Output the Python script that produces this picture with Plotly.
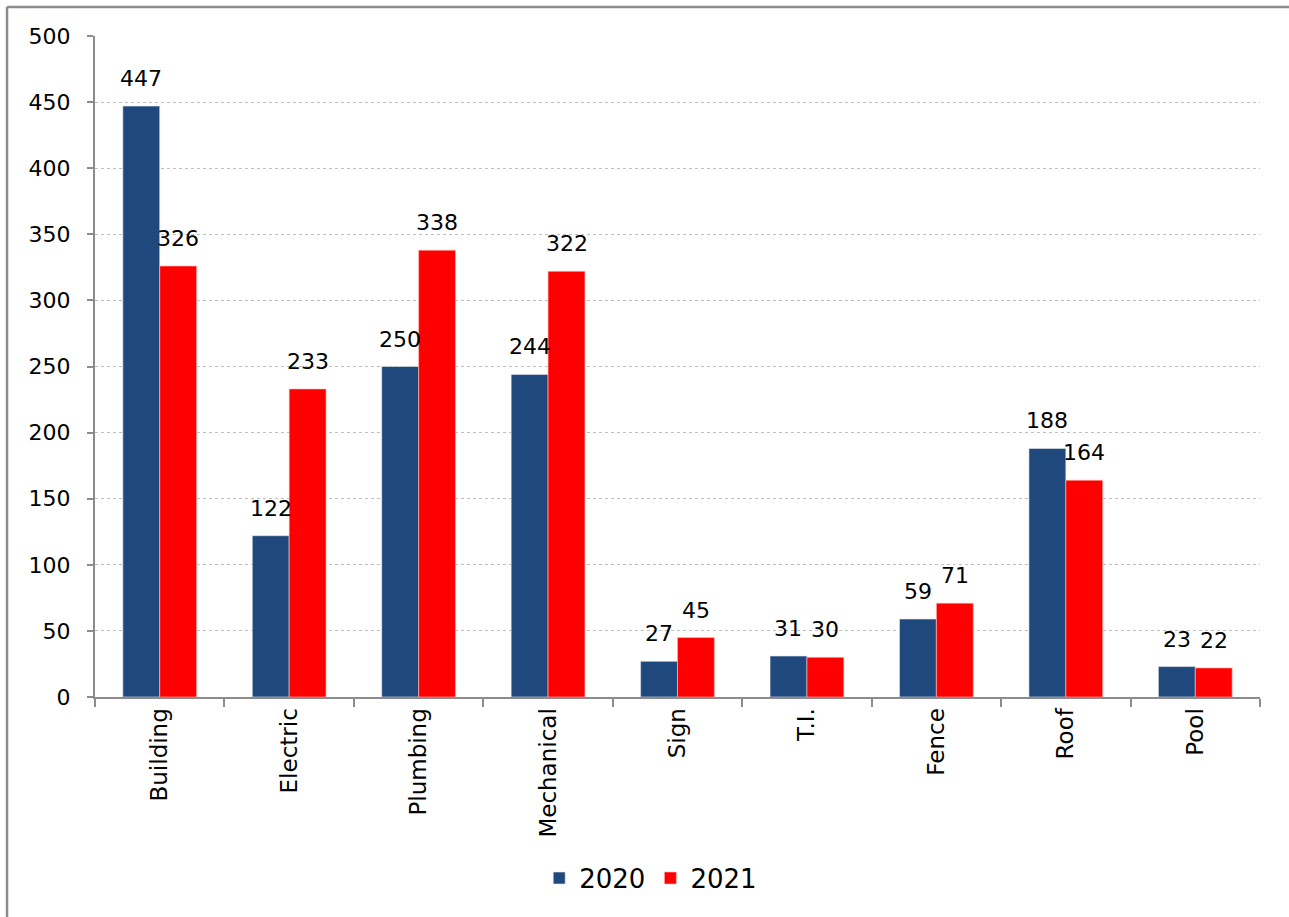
import plotly.graph_objects as go

categories = ["Building", "Electric", "Plumbing", "Mechanical", "Sign", "T.I.", "Fence", "Roof", "Pool"]
values_2020 = [447, 122, 250, 244, 27, 31, 59, 188, 23]
values_2021 = [326, 233, 338, 322, 45, 30, 71, 164, 22]
series_names = ["2020", "2021"]
y_ticks = [0, 50, 100, 150, 200, 250, 300, 350, 400, 450, 500]

FONT = "DejaVu Sans"
c2020 = "#1F497D"
c2021 = "#FF0000"

fig = go.Figure()
fig.add_trace(go.Bar(name=series_names[0], x=categories, y=values_2020,
                     marker=dict(color=c2020, line=dict(color="#e8e8f0", width=0.6))))
fig.add_trace(go.Bar(name=series_names[1], x=categories, y=values_2021,
                     marker=dict(color=c2021, line=dict(color="#ffc0c0", width=0.6))))

annotations = []
for cat, v in zip(categories, values_2020):
    annotations.append(dict(x=cat, y=v, xref="x", yref="y", text=str(v), showarrow=False,
                            xshift=-18.5, yshift=13, yanchor="bottom",
                            font=dict(family=FONT, size=22, color="#000000")))
for cat, v in zip(categories, values_2021):
    annotations.append(dict(x=cat, y=v, xref="x", yref="y", text=str(v), showarrow=False,
                            xshift=18.5, yshift=13, yanchor="bottom",
                            font=dict(family=FONT, size=22, color="#000000")))

border = dict(color="#8c8c8c", width=2.5)
fig.update_layout(
    width=1289, height=917,
    margin=dict(l=95, r=29, t=36, b=220),
    paper_bgcolor="white", plot_bgcolor="white",
    barmode="group", bargap=0.43, bargroupgap=0,
    font=dict(family=FONT, size=22, color="#000000"),
    annotations=annotations,
    showlegend=True,
    legend=dict(orientation="h", x=0.477, xanchor="center", y=-0.274, yanchor="middle",
                font=dict(family=FONT, size=26, color="#000000"), itemwidth=30,
                traceorder="normal"),
    shapes=[
        dict(type="line", xref="paper", yref="paper", x0=-0.0755, x1=-0.0755,
             y0=-0.45, y1=1.0439, line=border, layer="below"),
        dict(type="line", xref="paper", yref="paper", x0=-0.0755, x1=1.0249,
             y0=1.0439, y1=1.0439, line=border, layer="below"),
    ],
)
fig.update_xaxes(
    showline=True, linecolor="#8c8c8c", linewidth=2,
    ticks="outside", tickson="boundaries", ticklen=8, tickwidth=2, tickcolor="#8c8c8c",
    tickangle=-90, tickfont=dict(family=FONT, size=23, color="#000000"),
    showgrid=False,
)
fig.update_yaxes(
    range=[0, 500], tickvals=y_ticks,
    showline=True, linecolor="#8c8c8c", linewidth=2,
    ticks="outside", ticklen=6, tickwidth=2, tickcolor="#8c8c8c",
    tickfont=dict(family=FONT, size=22, color="#000000"),
    ticklabelstandoff=12,
    showgrid=True, gridcolor="#bfbfbf", gridwidth=1.2, griddash="dot",
    zeroline=False,
)

fig.write_html("out.html", config={"displayModeBar": False},
               post_script="document.body.style.margin='0px';document.body.style.overflow='hidden';")
